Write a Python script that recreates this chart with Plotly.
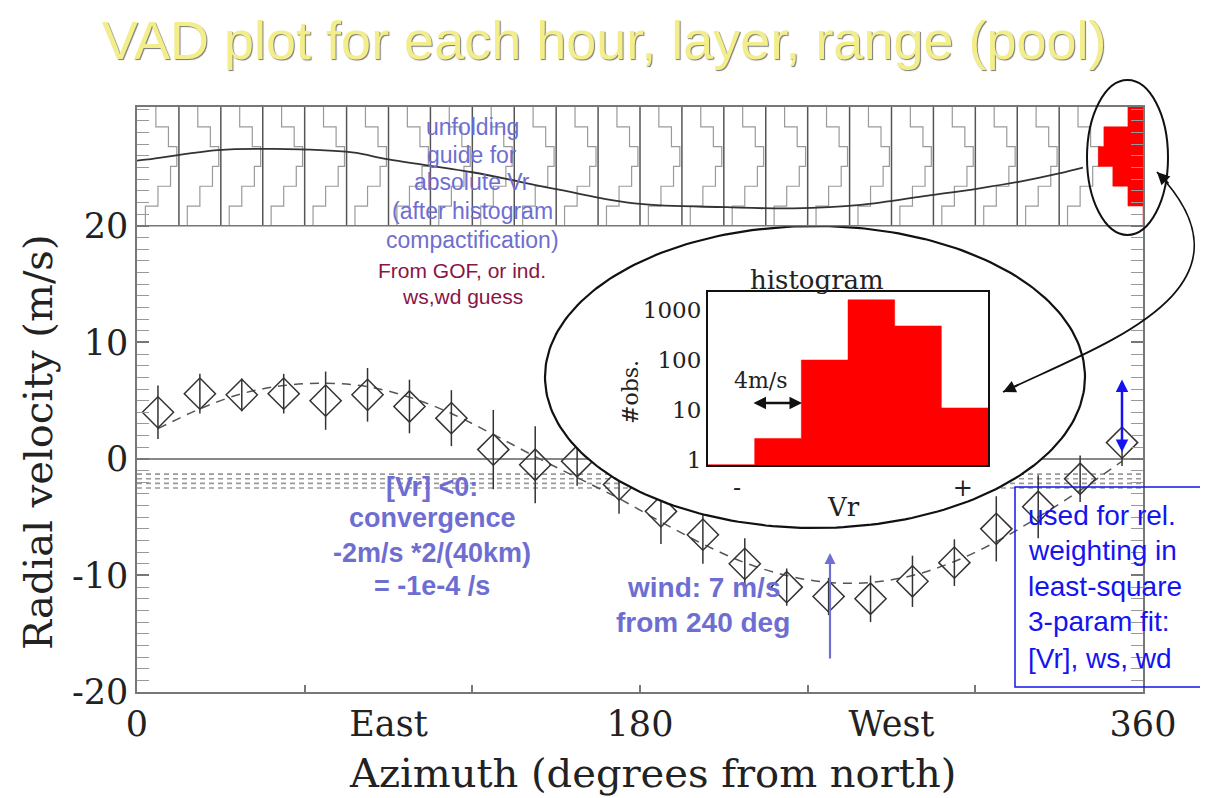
import numpy as np
import plotly.graph_objects as go

# ---------------- data ----------------
azimuth = [7.5, 22.5, 37.5, 52.5, 67.5, 82.5, 97.5, 112.5, 127.5, 142.5, 157.5, 172.5,
           187.5, 202.5, 217.5, 232.5, 247.5, 262.5, 277.5, 292.5, 307.5, 322.5, 337.5, 352.5]
vr_obs = [4.0, 5.6, 5.5, 5.6, 5.0, 5.5, 4.5, 3.5, 0.8, -0.5, -0.2, -2.2,
          -4.5, -6.5, -9.0, -11.0, -11.8, -12.0, -10.5, -8.9, -6.0, -4.1, -1.7, 1.4]
vr_err = [2.3, 1.7, 1.4, 1.7, 2.5, 2.3, 2.3, 2.4, 3.4, 3.3, 2.1, 2.5,
          2.8, 2.5, 2.2, 1.6, 1.6, 2.0, 2.2, 2.0, 2.8, 2.7, 2.0, 2.0]
vr_fit = [2.6, 4.3, 5.6, 6.3, 6.5, 6.2, 5.3, 3.9, 2.1, 0.2, -1.6, -3.4,
          -5.4, -7.3, -8.9, -10.0, -10.6, -10.6, -10.0, -8.8, -7.1, -5.0, -2.7, -0.2]

# reference lines: zero line and the dashed mean-Vr lines
mean_lines = [-1.3, -1.7, -2.1, -2.5]

# top panel: unfolding guide curve
guide_az = [0, 4, 29, 49, 77, 90, 120, 151, 179, 211, 235, 259, 283, 301, 316, 330, 338.5]
guide_v = [25.6, 25.7, 26.5, 26.6, 26.3, 25.7, 24.6, 23.1, 21.9, 21.6, 21.5, 21.8,
           22.6, 23.2, 23.8, 24.5, 25.0]

# top panel: per-azimuth-bin histogram columns (15 deg wide)
col_left = [0, 15, 30, 45, 60, 75, 90, 105, 120, 135, 150, 165, 180, 195, 210,
            225, 240, 255, 270, 285, 300, 315, 330]
hist_edges = [30.2, 28.5, 26.8, 25.1, 23.4, 21.7, 20.0]
hist_frac = [0.45, 0.75, 0.95, 0.8, 0.5, 0.2]
# zoomed red histogram (width in degrees, hanging left from 360)
red_width = [5.4, 14.0, 16.0, 10.8, 5.4, 0.0]

# inset histogram
inset_bins = [0, 1, 2, 3, 4, 5, 6]
inset_counts = [0.8, 2.7, 100, 1600, 480, 11]

x_labels = ["0", "East", "180", "West", "360"]
x_label_vals = [0, 90, 180, 270, 360]
x_tick_vals = [60, 120, 180, 240, 300]
y_tick_vals = [-20, -10, 0, 10, 20]
y_tick_text = ["-20", "-10", "0", "10", "20"]

# ---------------- geometry helpers (page pixel -> paper / data) ----------------
OFF = 8                      # page body margin
W, H = 1208 - OFF, 798 - OFF
L, R, T, B = 137, 1143, 107, 692   # plot area in page pixels
YMIN, YMAX = -20.0, 30.2


def pxp(X):
    return (X - L) / (R - L)


def pyp(Y):
    return (B - Y) / (B - T)


def pdeg(X):
    return (X - L) / (R - L) * 360.0


def pval(Y):
    return YMIN + (B - Y) / (B - T) * (YMAX - YMIN)


SERIF = "DejaVu Serif"
SANS = "Liberation Sans, Arial"
TXT = "#222222"

fig = go.Figure()

# top panel staircases
sx, sy = [], []
for c in col_left:
    for i, f in enumerate(hist_frac):
        if i > 0:
            sx.append(c + f * 15)
            sy.append(hist_edges[i])
        sx.append(c + f * 15)
        sy.append(hist_edges[i])
        sx.append(c + f * 15)
        sy.append(hist_edges[i + 1])
    sx.append(None)
    sy.append(None)
fig.add_trace(go.Scatter(x=sx, y=sy, mode="lines", line=dict(color="#9a9a9a", width=1.2),
                         hoverinfo="skip"))

vx, vy = [], []
for c in col_left[1:]:
    vx += [c, c, None]
    vy += [20, YMAX, None]
fig.add_trace(go.Scatter(x=vx, y=vy, mode="lines", line=dict(color="#555555", width=1.5),
                         hoverinfo="skip"))

fig.add_trace(go.Scatter(x=guide_az, y=guide_v, mode="lines", line=dict(color="#333333", width=1.8,
                         shape="spline"), hoverinfo="skip"))

# red zoomed histogram
rx, ry = [360], [hist_edges[0]]
for i, w in enumerate(red_width):
    rx += [360 - w, 360 - w]
    ry += [hist_edges[i], hist_edges[i + 1]]
rx.append(360)
ry.append(hist_edges[-1])
fig.add_trace(go.Scatter(x=rx, y=ry, mode="lines", fill="toself", fillcolor="#ff0000",
                         line=dict(color="#ff0000", width=0.5), hoverinfo="skip"))

# zero line + dashed mean lines
fig.add_trace(go.Scatter(x=[0, 360], y=[0, 0], mode="lines", line=dict(color="#888888", width=2),
                         hoverinfo="skip"))
for m in mean_lines:
    fig.add_trace(go.Scatter(x=[0, 360], y=[m, m], mode="lines",
                             line=dict(color="#999999", width=1.6, dash="5px,4px"), hoverinfo="skip"))

# fitted curve
fig.add_trace(go.Scatter(x=azimuth, y=vr_fit, mode="lines",
                         line=dict(color="#555555", width=1.5, dash="9px,7px", shape="spline"),
                         hoverinfo="skip"))

# observations
fig.add_trace(go.Scatter(x=azimuth, y=vr_obs, mode="markers",
                         marker=dict(symbol="diamond-open", size=24, color="#333333",
                                     line=dict(width=1.5, color="#333333")),
                         error_y=dict(type="data", array=vr_err, visible=True, width=0,
                                      thickness=1.5, color="#333333")))

# big white ellipse (covers plot under the inset)
t = np.linspace(0, 2 * np.pi, 241)
ecx, ecy, erx, ery = 815, 377, 270, 151
ex = [pdeg(ecx + erx * np.cos(a)) for a in t]
ey = [pval(ecy + ery * np.sin(a)) for a in t]
fig.add_trace(go.Scatter(x=ex, y=ey, mode="lines", fill="toself", fillcolor="white",
                         line=dict(color="#111111", width=2.2), hoverinfo="skip"))

# inset histogram (steps)
hx, hy = [inset_bins[0]], [inset_counts[0]]
for i, cnt in enumerate(inset_counts):
    hx += [inset_bins[i], inset_bins[i + 1]]
    hy += [cnt, cnt]
hx += [inset_bins[-1], inset_bins[0]]
hy += [0.79, 0.79]
fig.add_trace(go.Scatter(x=hx, y=hy, xaxis="x2", yaxis="y2", mode="lines", fill="toself",
                         fillcolor="#ff0000", line=dict(color="#ff0000", width=0.5),
                         hoverinfo="skip"))

# dummy trace for the tick-only overlay axis
fig.add_trace(go.Scatter(x=[0], y=[0], xaxis="x3", yaxis="y", mode="markers",
                         marker=dict(opacity=0), hoverinfo="skip"))

# ---------------- shapes ----------------
shapes = []
shapes.append(dict(type="line", xref="paper", yref="y", x0=0, x1=1, y0=20, y1=20,
                   line=dict(color="#777777", width=1.5)))
# small ellipse round the zoomed histogram
shapes.append(dict(type="circle", xref="paper", yref="paper", x0=pxp(1087), x1=pxp(1168),
                   y0=pyp(235), y1=pyp(80), line=dict(color="#111111", width=2)))
# curved double arrow
P = [(1157, 172), (1270, 290), (1100, 345), (1003, 392)]
path = "M {},{} C {},{} {},{} {},{}".format(*[v for p in P for v in (pxp(p[0]), pyp(p[1]))])
shapes.append(dict(type="path", xref="paper", yref="paper", path=path,
                   line=dict(color="#111111", width=1.8)))
# blue box
shapes.append(dict(type="rect", xref="paper", yref="paper", x0=pxp(1015), x1=pxp(1205),
                   y0=pyp(687), y1=pyp(487), line=dict(color="#1414F0", width=1.5)))

# ---------------- annotations ----------------
ann = []


def text(s, X, Y, size, color, family=SANS, bold=False, xanchor="center", angle=0):
    if bold:
        s = "<b>" + s + "</b>"
    ann.append(dict(text=s, x=pxp(X), y=pyp(Y), xref="paper", yref="paper", showarrow=False,
                    xanchor=xanchor, yanchor="middle", textangle=angle,
                    font=dict(family=family, size=size, color=color)))


def arrow(X, Y, AX, AY, color, width, both=False, size=1.0):
    ann.append(dict(text="", x=pxp(X), y=pyp(Y), xref="paper", yref="paper", showarrow=True,
                    ax=AX, ay=AY, arrowhead=2, arrowsize=size, arrowwidth=width,
                    arrowcolor=color, arrowside="end+start" if both else "end"))


ann.append(dict(text="VAD plot for each hour, layer, range (pool)", x=pxp(604), y=pyp(40),
                xref="paper", yref="paper", showarrow=False, xanchor="center", yanchor="middle",
                font=dict(family=SANS, size=54, color="#F3EE8A", shadow="1px 1px 1px #777")))

blue = "#6E6ED2"
for s, Y in zip(["unfolding", "guide for", "absolute Vr", "(after histogram", "compactification)"],
                [127, 155, 182, 211, 240]):
    text(s, 472, Y, 23, blue)
for s, Y in zip(["From GOF, or ind.", "ws,wd guess"], [270, 296]):
    text(s, 462, Y, 21, "#8A1446")
for s, Y in zip(["[Vr] <0:", "convergence", "-2m/s *2/(40km)", "= -1e-4 /s"], [487, 518, 553, 586]):
    text(s, 432, Y, 27, blue, bold=True)
for s, Y in zip(["wind: 7 m/s", "from 240 deg"], [587, 622]):
    text(s, 703, Y, 28, blue, bold=True)
for s, Y in zip(["used for rel.", "weighting in", "least-square", "3-param fit:", "[Vr], ws, wd"],
                [515, 550, 586, 621, 658]):
    text(s, 1026, Y, 28, "#1414F0", xanchor="left")

# inset labels
text("histogram", 817, 280, 26, TXT, family=SERIF)
text("#obs.", 630, 392, 22, TXT, family=SERIF, angle=-90)
text("Vr", 843, 507, 26, TXT, family=SERIF)
text("4m/s", 761, 380, 22, TXT, family=SERIF)

# axis titles
text("Azimuth (degrees from north)", 652, 773, 40, TXT, family=SERIF)
text("Radial velocity (m/s)", 38, 442, 40, TXT, family=SERIF, angle=-90)

# arrows
arrow(830, 553, 0, 107, "#7070D0", 2.2)
arrow(1122, 452, 0, -74, "#1414F0", 2.5, both=True)
arrow(802, 403, -50, 0, "#111111", 2.5, both=True)
arrow(1003, 392, 17, -8, "#111111", 1.8, size=1.4)
arrow(1157, 172, 13, 13, "#111111", 1.8, size=1.4)

fig.update_layout(
    width=W, height=H,
    margin=dict(l=L - OFF, r=W - (R - OFF), t=T - OFF, b=H - (B - OFF)),
    paper_bgcolor="white", plot_bgcolor="white",
    showlegend=False,
    shapes=shapes, annotations=ann,
    xaxis=dict(domain=[0, 1], range=[0, 360], showgrid=False, zeroline=False, showline=True,
               linecolor="#777777", linewidth=1.5, mirror=True, ticks="",
               tickvals=x_label_vals, ticktext=x_labels, automargin=False,
               tickfont=dict(family=SERIF, size=35, color=TXT)),
    xaxis3=dict(overlaying="x", anchor="y", range=[0, 360], side="bottom", showgrid=False,
                zeroline=False, showline=False, showticklabels=False, tickvals=x_tick_vals,
                ticks="inside", ticklen=7, tickwidth=1.5, tickcolor="#777777", automargin=False),
    yaxis=dict(range=[YMIN, YMAX], showgrid=False, zeroline=False, showline=True,
               linecolor="#777777", linewidth=1.5, mirror="allticks", ticks="inside",
               ticklen=12, tickwidth=1.5, tickcolor="#777777", tickvals=y_tick_vals,
               ticktext=y_tick_text, automargin=False,
               minor=dict(dtick=1, ticks="inside", ticklen=6, tickwidth=1, tickcolor="#999999"),
               tickfont=dict(family=SERIF, size=35, color=TXT)),
    xaxis2=dict(domain=[pxp(708), pxp(988)], anchor="y2", range=[0, 6], showgrid=False,
                zeroline=False, showline=True, linecolor="#111111", linewidth=2, mirror=True,
                ticks="", tickvals=[0.62, 5.46], ticktext=["-", "+"], automargin=False,
                tickfont=dict(family=SERIF, size=24, color=TXT)),
    yaxis2=dict(domain=[pyp(465), pyp(292)], anchor="x2", type="log", range=[-0.1, 3.36],
                showgrid=False, zeroline=False, showline=True, linecolor="#111111", linewidth=2,
                mirror=True, ticks="", tickvals=[1, 10, 100, 1000],
                ticktext=["1", "10", "100", "1000"], automargin=False,
                tickfont=dict(family=SERIF, size=23, color=TXT)),
)

fig.write_html("out.html")
